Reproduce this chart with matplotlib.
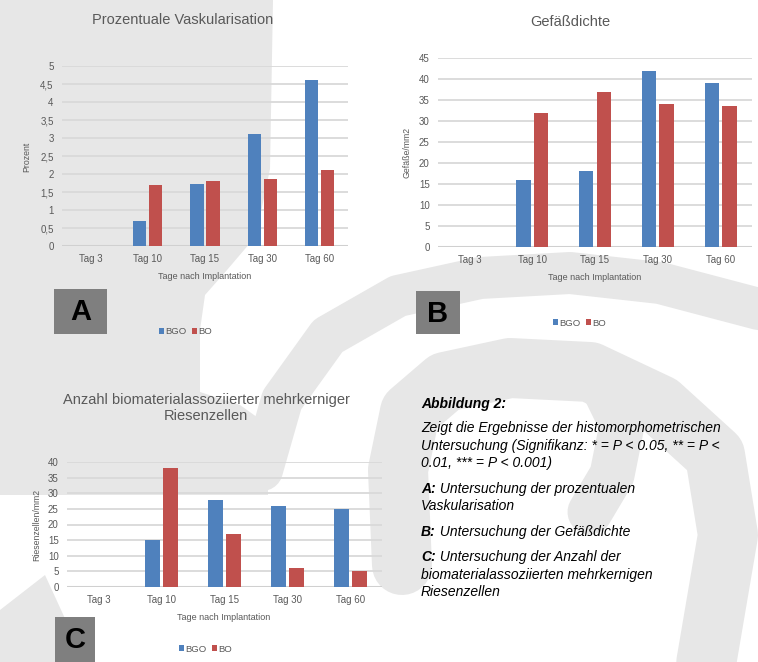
import matplotlib
matplotlib.use('Agg')
import matplotlib.pyplot as plt
import numpy as np
from matplotlib.patches import Polygon, Rectangle

plt.rcParams['font.family'] = ['Liberation Sans', 'DejaVu Sans']

W, H = 758, 662
GRAU = '#595959'
BLAU = '#4f81bd'
ROT = '#c0504d'
WASSERZEICHEN = '#e7e7e7'

# Messwerte der Histomorphometrie
tage = ['Tag 3', 'Tag 10', 'Tag 15', 'Tag 30', 'Tag 60']
gruppen = ['BGO', 'BO']

vask_bgo = [0, 0.7, 1.73, 3.1, 4.6]
vask_bo = [0, 1.7, 1.8, 1.85, 2.1]

dichte_bgo = [0, 16, 18, 42, 39]
dichte_bo = [0, 32, 37, 34, 33.5]

riesen_bgo = [0, 15, 28, 26, 25]
riesen_bo = [0, 38, 17, 6, 5]

fig = plt.figure(figsize=(W / 100, H / 100), dpi=100)
fig.patch.set_facecolor('white')


def fx(x):
    return x / W


def fy(y):
    return 1 - y / H


# Hintergrund mit Wasserzeichen (Koordinaten in Pixeln, y nach unten)
bg = fig.add_axes([0, 0, 1, 1], zorder=-5)
bg.set_xlim(0, W)
bg.set_ylim(H, 0)
bg.set_autoscale_on(False)
bg.axis('off')

bg.add_patch(Polygon([(0, 0), (273, 0), (270, 169), (256, 236), (227, 270),
                      (205, 295), (200, 330), (200, 392), (240, 405),
                      (268, 425), (268, 495), (0, 495)],
                     closed=True, fc=WASSERZEICHEN, ec='none', zorder=1))
bg.add_patch(Polygon([(0, 610), (45, 575), (85, 662), (0, 662)],
                     closed=True, fc=WASSERZEICHEN, ec='none', zorder=1))


def strich(pts, breite):
    pts = np.array(pts, dtype=float)
    bg.plot(pts[:, 0], pts[:, 1], color=WASSERZEICHEN, lw=breite * 0.72,
            solid_capstyle='round', solid_joinstyle='round', zorder=1)


# aeusserer Bogen
strich([(262, 470), (282, 400), (328, 336), (398, 296), (480, 278),
        (570, 273), (660, 283), (770, 312)], 42)
# innere Windung
strich([(402, 565), (398, 470), (410, 412), (445, 382), (510, 368),
        (590, 372), (660, 405), (715, 455), (728, 535), (705, 670)], 60)
# Haken der Windung
strich([(600, 380), (622, 425), (612, 475), (590, 512)], 45)


def panel(box, bgo, bo, ymax, step):
    x0, y0, x1, y1 = box
    ax = fig.add_axes([fx(x0), fy(y1), fx(x1) - fx(x0), fy(y0) - fy(y1)])
    ax.set_facecolor('none')
    x = np.arange(len(tage))
    b1 = ax.bar(x - 0.14, bgo, width=0.23, color=BLAU, zorder=3)
    b2 = ax.bar(x + 0.14, bo, width=0.23, color=ROT, zorder=3)
    ax.set_xlim(-0.5, len(tage) - 0.5)
    ax.set_ylim(0, ymax)
    ticks = np.arange(0, ymax + step / 2, step)
    ax.set_yticks(ticks)
    ax.set_yticklabels([f'{t:g}'.replace('.', ',') for t in ticks])
    ax.set_xticks(x)
    ax.set_xticklabels(tage)
    ax.yaxis.grid(True, color='#d9d9d9', lw=1.3)
    ax.set_axisbelow(True)
    ax.axhline(0, color='#d0d0d0', lw=2.2, zorder=2)
    for s in ax.spines.values():
        s.set_visible(False)
    ax.tick_params(axis='both', length=0, labelsize=7, colors=GRAU)
    ax.tick_params(axis='x', pad=6)
    ax.tick_params(axis='y', pad=6)
    return ax, b1, b2


def legende(ax, b1, b2, x, y):
    ax.legend([b1, b2], gruppen, loc='center left',
              bbox_to_anchor=(fx(x), fy(y)), bbox_transform=fig.transFigure,
              ncol=2, frameon=False, fontsize=6.8, labelcolor=GRAU,
              handlelength=0.55, handleheight=0.55, handletextpad=0.1,
              columnspacing=0.6, borderpad=0, borderaxespad=0)


def buchstabe(box, ch):
    x0, y0, x1, y1 = box
    bg.add_patch(Rectangle((x0, y0), x1 - x0, y1 - y0, fc='#7f7f7f',
                           ec='none', zorder=5))
    bg.text((x0 + x1) / 2, (y0 + y1) / 2 + 1, ch, ha='center', va='center',
            fontsize=21, weight='bold', color='black', zorder=6)


# A: Prozentuale Vaskularisation
axA, a1, a2 = panel((62, 66, 348, 246), vask_bgo, vask_bo, 5, 0.5)
fig.text(fx(183), fy(20), 'Prozentuale Vaskularisation', ha='center',
         va='center', fontsize=10.5, color=GRAU)
fig.text(fx(205), fy(276), 'Tage nach Implantation', ha='center',
         va='center', fontsize=6.5, color=GRAU)
fig.text(fx(27), fy(157), 'Prozent', ha='center', va='center',
         rotation=90, fontsize=6.3, color=GRAU)
legende(axA, a1, a2, 159, 332)
buchstabe((54, 289, 107, 334), 'A')

# B: Gefäßdichte
axB, bb1, bb2 = panel((438, 58, 752, 247), dichte_bgo, dichte_bo, 45, 5)
fig.text(fx(570), fy(22), 'Gefäßdichte', ha='center', va='center',
         fontsize=10.5, color=GRAU)
fig.text(fx(595), fy(277), 'Tage nach Implantation', ha='center',
         va='center', fontsize=6.5, color=GRAU)
fig.text(fx(407), fy(152), 'Gefäße/mm2', ha='center', va='center',
         rotation=90, fontsize=6.3, color=GRAU)
legende(axB, bb1, bb2, 553, 323)
buchstabe((416, 291, 460, 334), 'B')

# C: Riesenzellen
axC, c1, c2 = panel((67, 462, 382, 587), riesen_bgo, riesen_bo, 40, 5)
fig.text(fx(206), fy(408), 'Anzahl biomaterialassoziierter mehrkerniger\nRiesenzellen',
         ha='center', va='center', fontsize=10.5, color=GRAU, linespacing=1.15)
fig.text(fx(224), fy(617), 'Tage nach Implantation', ha='center',
         va='center', fontsize=6.5, color=GRAU)
fig.text(fx(37), fy(525), 'Riesenzellen/mm2', ha='center', va='center',
         rotation=90, fontsize=6.3, color=GRAU)
legende(axC, c1, c2, 179, 649)
buchstabe((55, 617, 95, 662), 'C')

# Bildunterschrift
fig.canvas.draw()
renderer = fig.canvas.get_renderer()
zeilen = [
    ('Abbildung 2:', '', 404),
    ('', 'Zeigt die Ergebnisse der histomorphometrischen', 428),
    ('', 'Untersuchung (Signifikanz: * = P < 0.05, ** = P <', 446),
    ('', '0.01, *** = P < 0.001)', 463),
    ('A:', ' Untersuchung der prozentualen', 489),
    ('', 'Vaskularisation', 506),
    ('B:', ' Untersuchung der Gefäßdichte', 532),
    ('C:', ' Untersuchung der Anzahl der', 557),
    ('', 'biomaterialassoziierten mehrkernigen', 575),
    ('', 'Riesenzellen', 592),
]
for fett, rest, y in zeilen:
    x = 421
    if fett:
        t = fig.text(fx(x), fy(y), fett, ha='left', va='center', fontsize=10,
                     style='italic', weight='bold', color='black')
        x += t.get_window_extent(renderer).width
    if rest:
        fig.text(fx(x), fy(y), rest, ha='left', va='center', fontsize=10,
                 style='italic', color='black')

fig.savefig('out.png', dpi=100)
